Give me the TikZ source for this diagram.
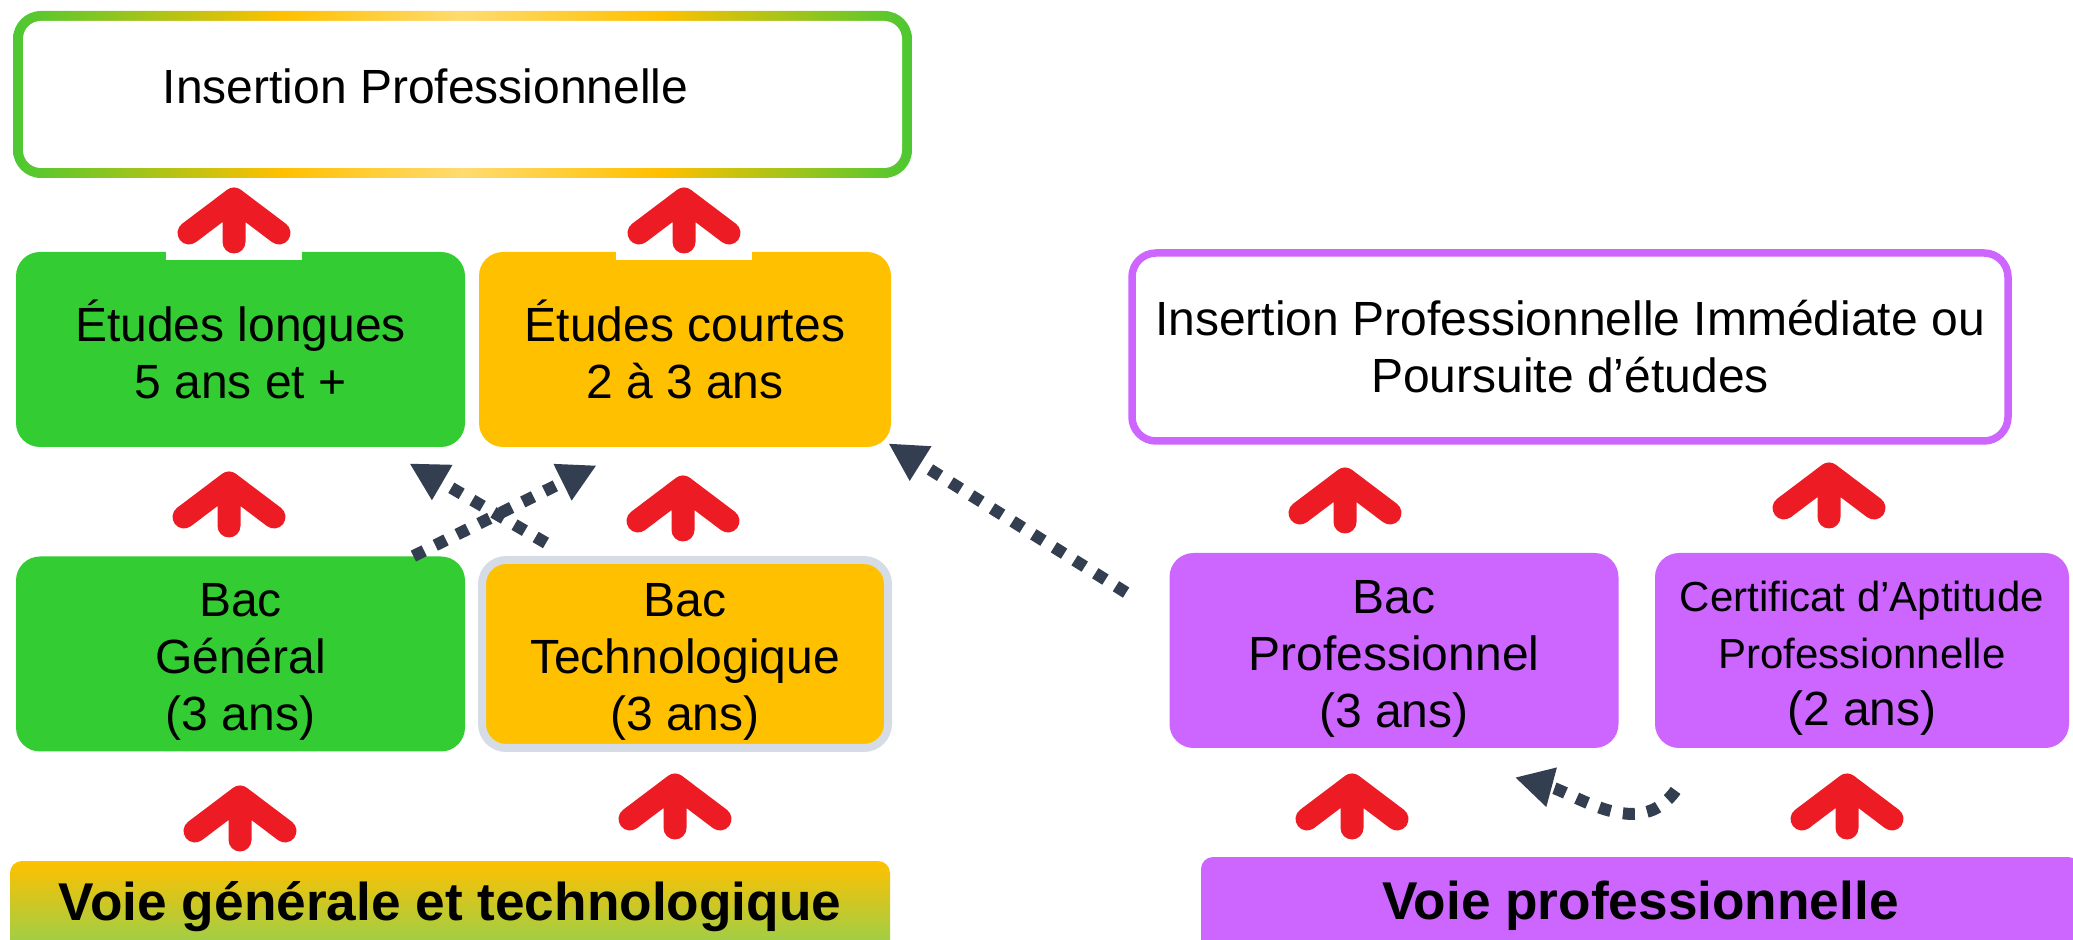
\documentclass[tikz,border=0pt]{standalone}
\usepackage{fontspec}
\setmainfont{Liberation Sans}
\usetikzlibrary{arrows.meta, calc}

\definecolor{boxgreen}{HTML}{33CC33}
\definecolor{boxorange}{HTML}{FFC000}
\definecolor{boxpurple}{HTML}{CC66FF}
\definecolor{edgegray}{HTML}{D6DCE5}
\definecolor{dotdark}{HTML}{333F50}
\definecolor{arrowred}{HTML}{ED1C24}
\definecolor{rimgreen}{HTML}{4CC832}
\definecolor{rimpale}{HTML}{FFDB70}
\definecolor{bannergreen}{HTML}{92D050}

\pgfdeclarehorizontalshading{rimshade}{100bp}{color(0bp)=(rimgreen); color(25bp)=(rimgreen); color(40bp)=(boxorange); color(50bp)=(rimpale); color(61bp)=(boxorange); color(75bp)=(rimgreen); color(100bp)=(rimgreen)}

\newcommand{\linestrut}[1]{\rule{0pt}{#1}}

\tikzset{
  box/.style={rounded corners=12pt, inner sep=0pt, align=center, font=\fontsize{24}{28.5}\selectfont},
  longbox/.style={box, minimum width=224.5pt, minimum height=97.5pt},
  shortbox/.style={box, minimum width=206pt, minimum height=97.5pt},
  banner/.style={rounded corners=6pt, inner sep=0pt, font=\fontsize{26.6}{30}\selectfont\bfseries},
  dots/.style={dotdark, line width=6pt, dash pattern=on 6pt off 6.2pt, -{Triangle[length=19pt, width=19pt]}},
  uparrow/.pic={
    \fill[white] (-68,-40) rectangle (68,40);
    \draw[arrowred, line width=11.5pt, line cap=round, line join=round]
      (-45,13) -- (0,-21) -- (45,13) (0,-21) -- (0,22);
  }
}

\begin{document}
\begin{tikzpicture}[x=0.5pt, y=-0.5pt]
  \useasboundingbox (0,0) rectangle (2073,940);

  \node[box, minimum width=449.5pt, minimum height=83.5pt, rounded corners=14pt, shading=rimshade,
    path picture={\fill[white, rounded corners=9pt] ([shift={(5pt,-5pt)}]path picture bounding box.north west) rectangle ([shift={(-5pt,5pt)}]path picture bounding box.south east);},
    label={[font=\fontsize{24}{28}\selectfont, xshift=-18.5pt, yshift=4pt]center:Insertion Professionnelle}] (insertion) at (462.5,94.5) {};

  \node[longbox, fill=boxgreen] (longues) at (240.5,349.5) {Études longues\\5 ans et +};
  \node[shortbox, fill=boxorange] (courtes) at (685,349.5) {Études courtes\\2 à 3 ans};
  \node[longbox, fill=boxgreen] (bacgen) at (240.5,654) {\linestrut{24.5pt}Bac\\Général\\(3 ans)};
  \node[box, fill=boxorange, draw=edgegray, line width=4pt, minimum width=203pt, minimum height=94pt] (bactech) at (685,654) {\linestrut{24.5pt}Bac\\Technologique\\(3 ans)};

  \node[box, draw=boxpurple, line width=3.75pt, fill=white, minimum width=438pt, minimum height=94pt,
    font=\fontsize{24}{28.5}\selectfont] (suite) at (1570,347) {Insertion Professionnelle Immédiate ou\\Poursuite d’études};
  \node[longbox, fill=boxpurple] (bacpro) at (1394,650.5) {\linestrut{24.5pt}Bac\\Professionnel\\(3 ans)};
  \node[shortbox, fill=boxpurple, minimum width=207pt] (cap) at (1862,650.5)
    {{\fontsize{21}{26}\selectfont\linestrut{22.5pt}Certificat d’Aptitude}\\{\fontsize{21}{26}\selectfont Professionnelle}\\(2 ans)};

  \node[banner, top color=boxorange, bottom color=bannergreen, minimum width=440pt, minimum height=46pt] (voiegt) at (450,907) {Voie générale et technologique};
  \node[banner, fill=boxpurple, minimum width=439.5pt, minimum height=49pt] (voiepro) at (1640.5,906) {Voie professionnelle};

  \pic at (234,220) {uparrow};
  \pic at (684,220) {uparrow};
  \pic at (229,504) {uparrow};
  \pic at (683,508) {uparrow};
  \pic at (1345,500) {uparrow};
  \pic at (1829,495) {uparrow};
  \pic at (240,818) {uparrow};
  \pic at (675,806) {uparrow};
  \pic at (1352,806) {uparrow};
  \pic at (1847,806) {uparrow};

  \draw[dots] ([xshift=-26pt]bacgen.north east) -- ([xshift=59pt, yshift=-9pt]courtes.south west);
  \draw[dots] ([xshift=-69.5pt, yshift=6.5pt]bactech.north) -- ([xshift=-28pt, yshift=-8pt]longues.south east);
  \draw[dots] ([xshift=-21.5pt, yshift=-20pt]bacpro.north west) -- ([xshift=-1.5pt, yshift=2pt]courtes.south east);
  \draw[dots] ([xshift=10.5pt, yshift=-21pt]cap.south west) to[out=-125, in=-15] ([xshift=-52pt, yshift=-14.5pt]bacpro.south east);
\end{tikzpicture}
\end{document}
